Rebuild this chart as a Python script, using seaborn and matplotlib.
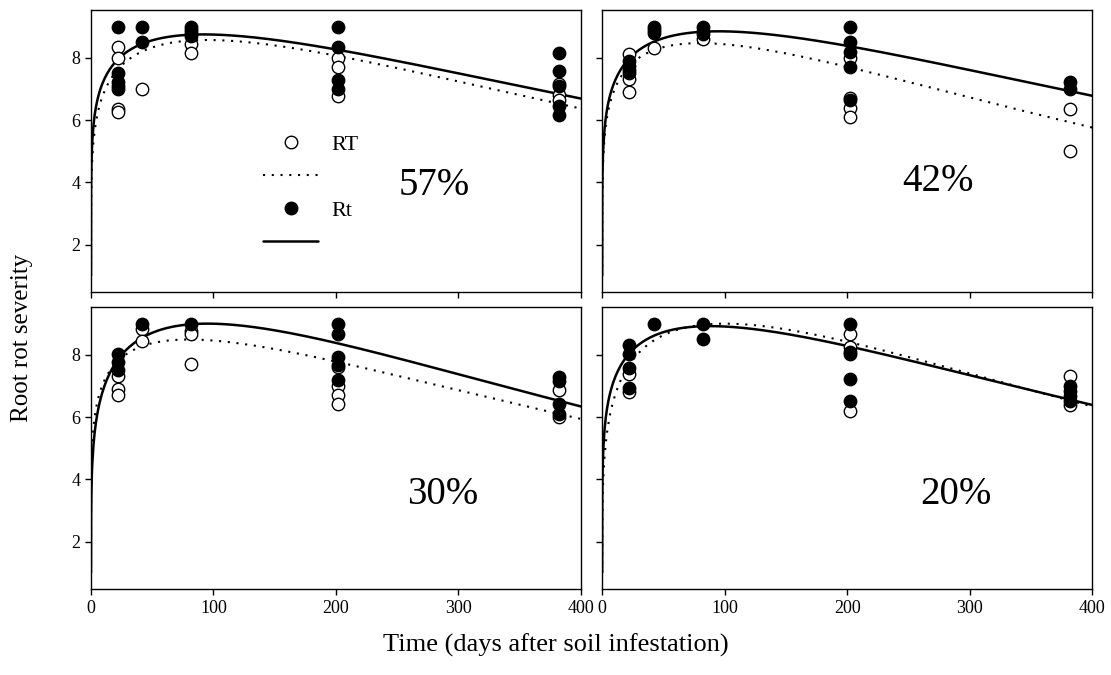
import numpy as np
import pandas as pd
import matplotlib
matplotlib.use("Agg")
import matplotlib.pyplot as plt
import seaborn as sns
from matplotlib.lines import Line2D

sns.set_theme(style="ticks")
plt.rcParams["font.family"] = ["Liberation Serif", "DejaVu Serif"]
plt.rcParams["text.color"] = "black"
plt.rcParams["axes.labelcolor"] = "black"
plt.rcParams["xtick.color"] = "black"
plt.rcParams["ytick.color"] = "black"

# ---------------- data ----------------
panels = ["57%", "42%", "30%", "20%"]

# open circles (RT)
rt57_x = [22, 22, 22, 22, 42, 82, 82, 202, 202, 202, 382, 382, 382]
rt57_y = [8.34, 8.0, 6.35, 6.25, 7.0, 8.45, 8.15, 8.0, 7.7, 6.77, 7.17, 6.8, 6.64]
rt42_x = [22, 22, 22, 42, 82, 202, 202, 202, 202, 382, 382]
rt42_y = [8.13, 7.33, 6.9, 8.3, 8.6, 8.0, 6.7, 6.4, 6.1, 6.34, 5.0]
rt30_x = [22, 22, 22, 42, 42, 82, 82, 82, 202, 202, 202, 202, 382, 382]
rt30_y = [7.33, 6.9, 6.7, 8.84, 8.43, 8.75, 8.68, 7.7, 7.6, 7.0, 6.7, 6.42, 6.88, 6.0]
rt20_x = [22, 22, 202, 202, 202, 382, 382]
rt20_y = [7.39, 6.82, 8.68, 8.25, 6.2, 7.31, 6.39]

# filled circles (Rt)
Rt57_x = [22, 22, 22, 22, 22, 42, 42, 82, 82, 82, 82, 202, 202, 202, 202, 382, 382, 382, 382, 382]
Rt57_y = [9.0, 7.52, 7.22, 7.1, 7.0, 9.0, 8.5, 9.0, 8.9, 8.8, 8.7, 9.0, 8.34, 7.28, 7.0, 8.15, 7.57, 7.1, 6.45, 6.16]
Rt42_x = [22, 22, 22, 22, 42, 42, 42, 82, 82, 82, 202, 202, 202, 202, 202, 382, 382]
Rt42_y = [7.9, 7.75, 7.6, 7.5, 9.0, 8.9, 8.8, 9.0, 8.87, 8.77, 9.0, 8.5, 8.2, 7.7, 6.64, 7.22, 7.0]
Rt30_x = [22, 22, 22, 42, 82, 202, 202, 202, 202, 202, 382, 382, 382, 382]
Rt30_y = [8.03, 7.76, 7.5, 9.0, 9.0, 9.0, 8.68, 7.92, 7.66, 7.2, 7.28, 7.17, 6.42, 6.1]
Rt20_x = [22, 22, 22, 22, 42, 82, 82, 202, 202, 202, 202, 202, 382, 382, 382, 382]
Rt20_y = [8.3, 8.03, 7.57, 6.92, 9.0, 9.0, 8.52, 9.0, 8.1, 8.03, 7.23, 6.53, 7.0, 6.85, 6.69, 6.53]

# fitted curves y = a x^b exp(-c x): described by peak day, peak value, value at day 400
rt_peak_x = [95, 80, 80, 100]
rt_peak_y = [8.57, 8.47, 8.49, 9.0]
rt_end_y = [6.37, 5.76, 5.94, 6.34]
Rt_peak_x = [92, 95, 95, 88]
Rt_peak_y = [8.75, 8.85, 9.0, 8.92]
Rt_end_y = [6.69, 6.78, 6.34, 6.39]

label_x = [280, 274, 287, 289]
label_y = [3.9, 4.03, 3.52, 3.52]

rt_pts = [(rt57_x, rt57_y), (rt42_x, rt42_y), (rt30_x, rt30_y), (rt20_x, rt20_y)]
Rt_pts = [(Rt57_x, Rt57_y), (Rt42_x, Rt42_y), (Rt30_x, Rt30_y), (Rt20_x, Rt20_y)]


def curve(px, py, ey):
    b = np.log(ey / py) / (np.log(400.0 / px) - (400.0 - px) / px)
    x = np.concatenate([np.geomspace(1e-7, 1, 300), np.linspace(1, 400, 400)[1:]])
    y = py * (x / px) ** b * np.exp(b * (1 - x / px))
    keep = y >= 1.0
    return x[keep], y[keep]


fig = plt.figure(figsize=(11.11, 6.75), dpi=100)
lefts = [0.0819, 0.542, 0.0819, 0.542]
bottoms = [0.567, 0.567, 0.127, 0.127]
w = 0.441
h = 0.418

for i, name in enumerate(panels):
    ax = fig.add_axes([lefts[i], bottoms[i], w, h])
    ax.set_facecolor("white")
    cx, cy = curve(rt_peak_x[i], rt_peak_y[i], rt_end_y[i])
    sns.lineplot(x=cx, y=cy, ax=ax, color="black", lw=1.5, linestyle=(0, (1, 3.2)), sort=False, estimator=None)
    cx, cy = curve(Rt_peak_x[i], Rt_peak_y[i], Rt_end_y[i])
    sns.lineplot(x=cx, y=cy, ax=ax, color="black", lw=1.8, sort=False, estimator=None)
    dfo = pd.DataFrame({"day": rt_pts[i][0], "sev": rt_pts[i][1]})
    dff = pd.DataFrame({"day": Rt_pts[i][0], "sev": Rt_pts[i][1]})
    sns.scatterplot(data=dfo, x="day", y="sev", ax=ax, s=80, facecolor="white", edgecolor="black", linewidth=1.0, zorder=3)
    sns.scatterplot(data=dff, x="day", y="sev", ax=ax, s=80, color="black", edgecolor="black", linewidth=1.0, zorder=4)

    ax.set_xlim(0, 400)
    ax.set_ylim(0.47, 9.53)
    ax.set_xticks([0, 100, 200, 300, 400])
    ax.set_yticks([2, 4, 6, 8])
    ax.set_xlabel("")
    ax.set_ylabel("")
    ax.tick_params(direction="out", length=4, width=1, labelsize=13, colors="black")
    if i in (0, 1):
        ax.set_xticklabels([])
    if i in (1, 3):
        ax.set_yticklabels([])
    for sp in ax.spines.values():
        sp.set_color("black")
        sp.set_linewidth(1.0)
    ax.text(label_x[i], label_y[i], name, fontsize=28, ha="center", va="center", color="black")

    if i == 0:
        handles = [
            Line2D([], [], marker="o", ls="none", mfc="white", mec="black", ms=9),
            Line2D([], [], color="black", lw=1.5, ls=(0, (1, 3.2))),
            Line2D([], [], marker="o", ls="none", mfc="black", mec="black", ms=9),
            Line2D([], [], color="black", lw=1.8),
        ]
        ax.legend(handles, ["RT", "", "Rt", ""], loc="upper left", bbox_to_anchor=(0.31, 0.63),
                  frameon=False, fontsize=16, handlelength=2.5, labelspacing=0.55, handletextpad=0.6)

fig.text(0.0198, 0.5, "Root rot severity", rotation=90, fontsize=18, ha="center", va="center", color="black")
fig.text(0.5, 0.044, "Time (days after soil infestation)", fontsize=19, ha="center", va="center", color="black")

fig.savefig("out.png", dpi=100)
